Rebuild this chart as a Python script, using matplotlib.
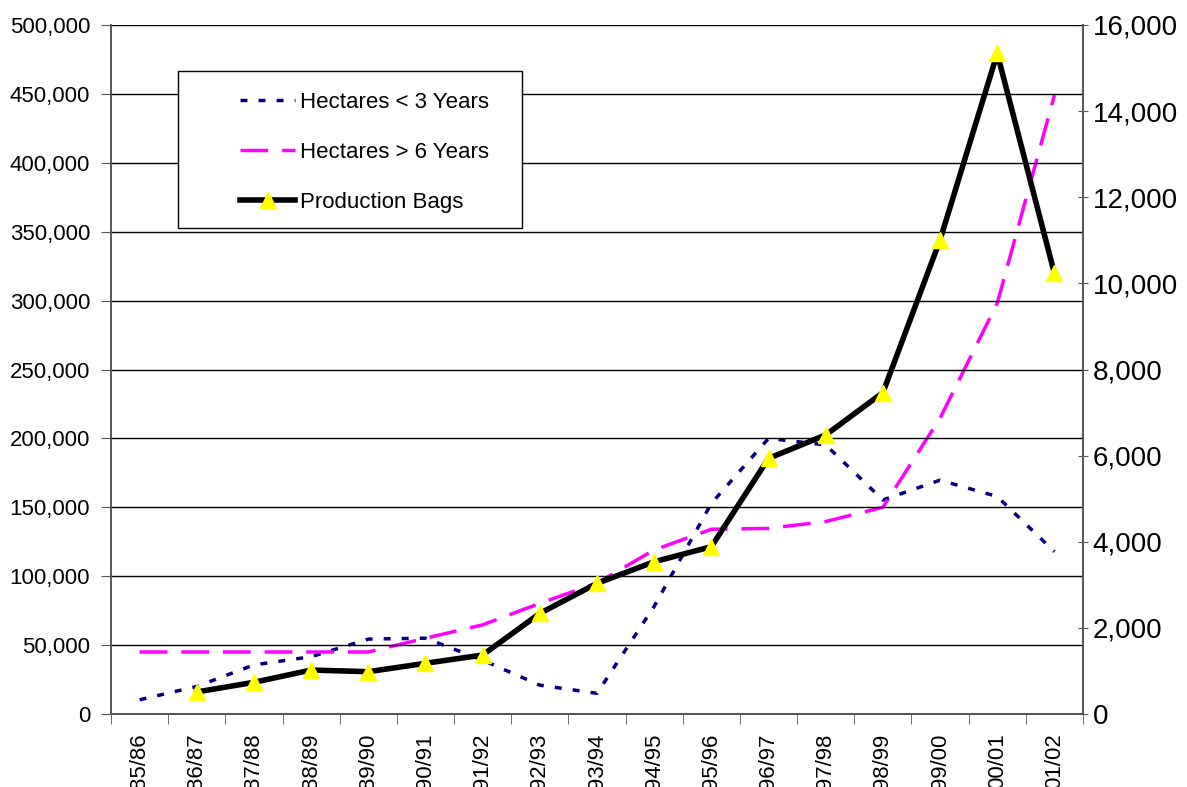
import matplotlib
matplotlib.use("Agg")
import matplotlib.pyplot as plt
from matplotlib.patches import Rectangle
from matplotlib.ticker import FuncFormatter, MultipleLocator
import numpy as np

plt.rcParams['font.family'] = ['Liberation Sans', 'DejaVu Sans']

seasons = ["85/86", "86/87", "87/88", "88/89", "89/90", "90/91", "91/92", "92/93", "93/94",
           "94/95", "95/96", "96/97", "97/98", "98/99", "99/00", "00/01", "01/02"]
# right axis
ha_under3 = [330, 640, 1140, 1330, 1740, 1760, 1250, 670, 480,
             2500, 4890, 6400, 6250, 4970, 5430, 5050, 3770]
ha_over6 = [1440, 1440, 1440, 1440, 1440, 1760, 2070, 2570, 3040,
            3810, 4290, 4310, 4470, 4800, 6870, 9540, 14370]
# left axis
production = [np.nan, 16000, 23000, 31900, 30700, 36800, 42800, 73000, 94800,
              110500, 121400, 185500, 202500, 233200, 344000, 479400, 319800]

x = np.arange(len(seasons))

fig = plt.figure(figsize=(11.87, 7.87), dpi=100)
ax = fig.add_axes([111/1187, 73/787, 972/1187, 689/787])
ax2 = ax.twinx()

ax.set_zorder(ax2.get_zorder() + 1)
ax.patch.set_visible(False)

l1, = ax2.plot(x, ha_under3, color="#000080", lw=2.5, linestyle=(0, (2, 3.2)),
               label="Hectares < 3 Years")
l2, = ax2.plot(x, ha_over6, color="#FF00FF", lw=2.5, linestyle=(0, (8, 4)),
               label="Hectares > 6 Years")
l3, = ax.plot(x, production, color="black", lw=4, marker="^", markersize=12,
              markerfacecolor="#FFFF00", markeredgecolor="#FFFF00",
              label="Production Bags")

ax.set_xlim(-0.5, len(seasons) - 0.5)
ax.set_ylim(0, 500000)
ax2.set_ylim(0, 16000)

ax.yaxis.set_major_locator(MultipleLocator(50000))
ax2.yaxis.set_major_locator(MultipleLocator(2000))
fmt = FuncFormatter(lambda v, p: f"{int(v):,}")
ax.yaxis.set_major_formatter(fmt)
ax2.yaxis.set_major_formatter(fmt)

ax.set_xticks(x)
ax.set_xticklabels(seasons, rotation=90, fontsize=16)
ax.set_xticks(np.arange(len(seasons) + 1) - 0.5, minor=True)
ax.tick_params(axis="x", which="major", length=0, pad=14)
ax.tick_params(axis="x", which="minor", length=7, color="#555555", direction="out")
ax.tick_params(axis="y", labelsize=16, length=7, color="#555555", direction="out", pad=8)
ax2.tick_params(axis="y", labelsize=20, length=7, color="#555555", direction="inout")

ax.grid(axis="y", color="black", lw=1)
ax.set_axisbelow(True)

for a in (ax, ax2):
    a.spines["top"].set_visible(False)
    for s in ("left", "right", "bottom"):
        a.spines[s].set_color("#555555")
        a.spines[s].set_linewidth(1.2)

# legend box
ax.add_patch(Rectangle((0.069, 0.705), 0.354, 0.228, transform=ax.transAxes,
                       facecolor="white", edgecolor="black", lw=1, zorder=5))
leg = ax.legend(handles=[l1, l2, l3], loc="upper left", bbox_to_anchor=(0.1235, 0.916),
                frameon=False, fontsize=16, handlelength=2.5, handletextpad=0.2,
                labelspacing=1.3, borderaxespad=0)
leg.set_zorder(6)

fig.savefig("out.png", dpi=100)
